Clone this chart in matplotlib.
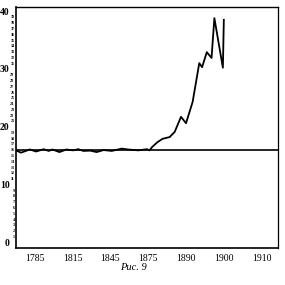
import numpy as np
import matplotlib
matplotlib.use("Agg")
import matplotlib.pyplot as plt

# ---- data ----
tick_years = [1785, 1815, 1845, 1875, 1890, 1900, 1910]
years = [1770, 1774, 1781, 1786, 1792, 1796, 1799, 1804.5, 1810, 1815.5,
         1819.5, 1823.5, 1829, 1834, 1839.5, 1846, 1854, 1859, 1867, 1874,
         1875.5, 1876.6, 1878.6, 1880.7, 1883.5, 1885.5, 1888, 1890,
         1891.75, 1893.5, 1894.25, 1895.5, 1896.75, 1897.5, 1899.75, 1900]
values = [15.9, 15.5, 16.05, 15.7, 16.1, 15.8, 16.05, 15.6, 16.05, 15.9,
          16.1, 15.8, 15.85, 15.6, 15.95, 15.8, 16.2, 16.05, 15.9, 16.1,
          15.9, 16.5, 17.3, 17.9, 18.2, 19.1, 21.7, 20.6,
          24.3, 31.0, 30.3, 32.9, 31.9, 38.8, 30.2, 38.5]
base_level = 16
major_y = [0, 10, 20, 30, 40]
minor_y = [v for v in range(1, 40) if v % 10 != 0]

ty = np.array(tick_years, dtype=float)
ti = np.arange(len(ty), dtype=float)


def fwd(x):
    x = np.asarray(x, dtype=float)
    out = np.interp(x, ty, ti)
    out = np.where(x < ty[0], (x - ty[0]) / (ty[1] - ty[0]), out)
    out = np.where(x > ty[-1], ti[-1] + (x - ty[-1]) / (ty[-1] - ty[-2]), out)
    return out


def inv(p):
    p = np.asarray(p, dtype=float)
    out = np.interp(p, ti, ty)
    out = np.where(p < 0, ty[0] + p * (ty[1] - ty[0]), out)
    out = np.where(p > ti[-1], ty[-1] + (p - ti[-1]) * (ty[-1] - ty[-2]), out)
    return out


serif = "Liberation Serif"
fig = plt.figure(figsize=(2.85, 2.85), dpi=100)
ax = fig.add_axes([0.056, 0.13, 0.919, 0.845])
ax.set_xscale("function", functions=(fwd, inv))

ax.axhline(base_level, color="black", lw=1.2)
ax.plot(years, values, color="black", lw=1.3)

ax.set_xlim(1770, 1914.3)
ax.set_ylim(-1, 40.7)

ax.set_xticks(tick_years)
ax.set_xticklabels([str(t) for t in tick_years], fontsize=7, family=serif)
ax.xaxis.set_minor_locator(matplotlib.ticker.NullLocator())
ax.set_yticks(major_y)
ax.set_yticklabels([str(v) for v in major_y], fontsize=7, family=serif,
                   fontweight="bold")
ax.set_yticks(minor_y, minor=True)
ax.set_yticklabels([str(v) for v in minor_y], minor=True, fontsize=3,
                   family=serif, fontweight="bold")
ax.tick_params(axis="both", which="both", length=0)
ax.tick_params(axis="y", which="major", pad=4.5)
ax.tick_params(axis="y", which="minor", pad=1)
ax.tick_params(axis="x", pad=4)

for s in ax.spines.values():
    s.set_linewidth(1.2)
ax.spines["top"].set_linewidth(1.0)
ax.spines["right"].set_linewidth(0.9)

fig.text(0.467, 0.063, "Рис. 9", ha="center", va="center", fontsize=7.5,
         family=serif, style="italic")

fig.savefig("out.png", dpi=100, facecolor="white")
